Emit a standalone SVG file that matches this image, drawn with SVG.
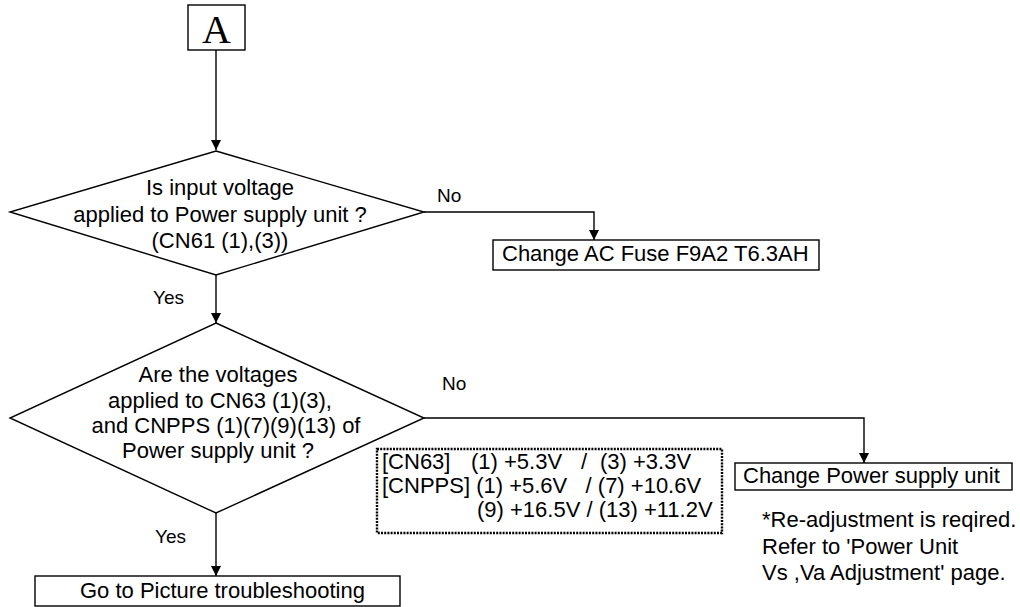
<svg xmlns="http://www.w3.org/2000/svg" width="1020" height="607" viewBox="0 0 1020 607">
<style>
text{font-family:"Liberation Sans",Arial,sans-serif;font-size:22px;fill:#000}
.lbl{font-size:19px}
.c{text-anchor:middle}
.shape{fill:#fff;stroke:#000;stroke-width:1.4}
.conn{fill:none;stroke:#000;stroke-width:1.4}
.dot{fill:none;stroke:#000;stroke-width:2.4;stroke-dasharray:2 1.2}
</style>
<defs>
<marker id="arr" viewBox="0 0 10 10" refX="10" refY="5" markerWidth="10" markerHeight="10" markerUnits="userSpaceOnUse" orient="auto">
<path d="M0,0 L10,5 L0,10 Z" fill="#000"/>
</marker>
</defs>
<rect width="1020" height="607" fill="#fff"/>
<g id="connectors">
<path class="conn" d="M216,50 V150" marker-end="url(#arr)"/>
<path class="conn" d="M424,212 H594 V240" marker-end="url(#arr)"/>
<path class="conn" d="M216,275 V323" marker-end="url(#arr)"/>
<path class="conn" d="M424,418 H864 V463" marker-end="url(#arr)"/>
<path class="conn" d="M216,513 V576" marker-end="url(#arr)"/>
<text class="lbl" x="437" y="202">No</text>
<text class="lbl" x="153" y="304">Yes</text>
<text class="lbl" x="442" y="390">No</text>
<text class="lbl" x="155" y="543">Yes</text>
</g>
<g id="nodeA">
<rect class="shape" x="188" y="5" width="57" height="45"/>
<text x="216.5" y="43" class="c" style="font-family:'Liberation Serif','Times New Roman',serif;font-size:40px">A</text>
</g>
<g id="decision1">
<polygon class="shape" points="216,151 424,212 216,275 10,212"/>
<text class="c" x="220" y="195">Is input voltage</text>
<text class="c" x="220" y="222">applied to Power supply unit ?</text>
<text class="c" x="220" y="248">(CN61 (1),(3))</text>
</g>
<g id="fuse">
<rect class="shape" x="493" y="240" width="326" height="30"/>
<text x="502" y="261">Change AC Fuse F9A2 T6.3AH</text>
</g>
<g id="decision2">
<polygon class="shape" points="216,323 424,418 216,513 10,418"/>
<text class="c" x="218" y="382">Are the voltages</text>
<text class="c" x="220" y="408">applied to CN63 (1)(3),</text>
<text class="c" x="226" y="433">and CNPPS (1)(7)(9)(13) of</text>
<text class="c" x="218" y="458">Power supply unit ?</text>
</g>
<g id="values">
<rect class="dot" x="377" y="449" width="345" height="84"/>
<text y="469"><tspan x="382">[CN63]</tspan><tspan x="471">(1) +5.3V</tspan><tspan x="581">/</tspan><tspan x="600">(3) +3.3V</tspan></text>
<text y="493" x="382" xml:space="preserve">[CNPPS] (1) +5.6V   / (7) +10.6V</text>
<text y="517" x="477">(9) +16.5V / (13) +11.2V</text>
</g>
<g id="powerunit">
<rect class="shape" x="735" y="463" width="277" height="27"/>
<text x="743" y="483">Change Power supply unit</text>
</g>
<g id="note">
<text x="762" y="527">*Re-adjustment is reqired.</text>
<text x="762" y="554">Refer to 'Power Unit</text>
<text x="762" y="580">Vs ,Va Adjustment' page.</text>
</g>
<g id="picture">
<rect class="shape" x="35" y="576" width="365" height="30"/>
<text x="80" y="598">Go to Picture troubleshooting</text>
</g>
</svg>
